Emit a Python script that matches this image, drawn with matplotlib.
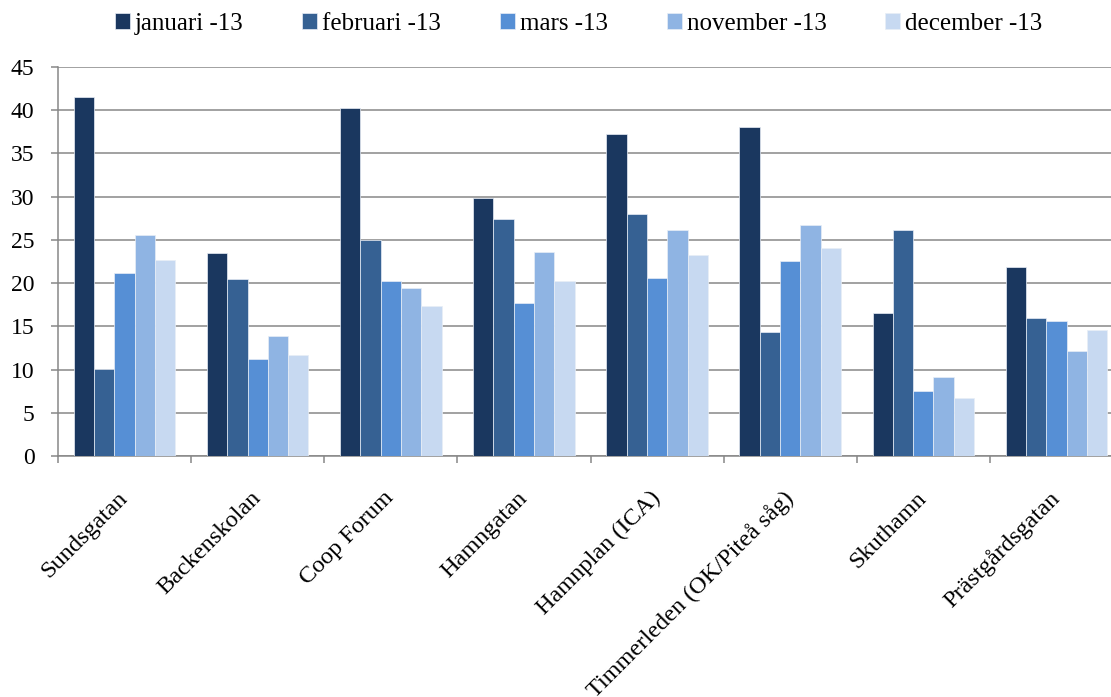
import numpy as np
import matplotlib.pyplot as plt

plt.rcParams['font.family'] = ['Liberation Serif', 'DejaVu Serif']

# Platser och mätvärden per månad
platser = ['Sundsgatan', 'Backenskolan', 'Coop Forum', 'Hamngatan',
           'Hamnplan (ICA)', 'Timmerleden (OK/Piteå såg)', 'Skuthamn',
           'Prästgårdsgatan']
manader = ['januari -13', 'februari -13', 'mars -13', 'november -13',
           'december -13']
januari = [41.5, 23.5, 40.3, 29.8, 37.3, 38.1, 16.5, 21.9]
februari = [10.1, 20.5, 25.0, 27.4, 28.0, 14.3, 26.1, 16.0]
mars = [21.2, 11.2, 20.2, 17.7, 20.6, 22.6, 7.5, 15.6]
november = [25.6, 13.9, 19.4, 23.6, 26.1, 26.7, 9.1, 12.1]
december = [22.7, 11.7, 17.4, 20.2, 23.3, 24.1, 6.7, 14.6]
yticks = [0, 5, 10, 15, 20, 25, 30, 35, 40, 45]

serier = [januari, februari, mars, november, december]
farger = ['#1a375f', '#366193', '#568fd5', '#8fb4e3', '#c7d9f1']

fig = plt.figure(figsize=(11.11, 6.97), dpi=100)
# axeln går lite utanför figurens högerkant
ax = fig.add_axes([58 / 1111, 241 / 697, 1065 / 1111, 389 / 697])

x = np.arange(len(platser))
bredd = 0.1525
start = 0.5 - 2 * bredd
for i, (serie, farg, namn) in enumerate(zip(serier, farger, manader)):
    ax.bar(x + start + i * bredd, serie, width=bredd, color=farg,
           edgecolor='#e8eef6', linewidth=0.5, label=namn, zorder=3)

ax.set_xlim(0, len(platser))
ax.set_ylim(0, 45)
ax.set_yticks(yticks)
ax.yaxis.grid(True, color='#878787', linewidth=1.1, zorder=0)
ax.set_xticks(np.arange(len(platser) + 1))
ax.set_xticklabels([])
ax.set_xticks(x + 0.5, minor=True)
ax.set_xticklabels(platser, minor=True, rotation=45, ha='right',
                   va='center', rotation_mode='anchor', fontsize=17.5)
ax.tick_params(axis='x', which='minor', length=0, pad=28)
ax.tick_params(axis='x', which='major', length=5, color='#878787',
               width=1.1)
ax.tick_params(axis='y', length=5, color='#878787', width=1.1, pad=12,
               labelsize=17)

for side in ['top', 'right']:
    ax.spines[side].set_visible(False)
for side in ['left', 'bottom']:
    ax.spines[side].set_color('#878787')
    ax.spines[side].set_linewidth(1.1)

fig.legend(loc='center', bbox_to_anchor=(0.521, 0.966), ncol=5,
           frameon=False, fontsize=18, handlelength=0.6, handleheight=0.6,
           handletextpad=0.2, columnspacing=2.35)

fig.savefig('out.png', dpi=100)
